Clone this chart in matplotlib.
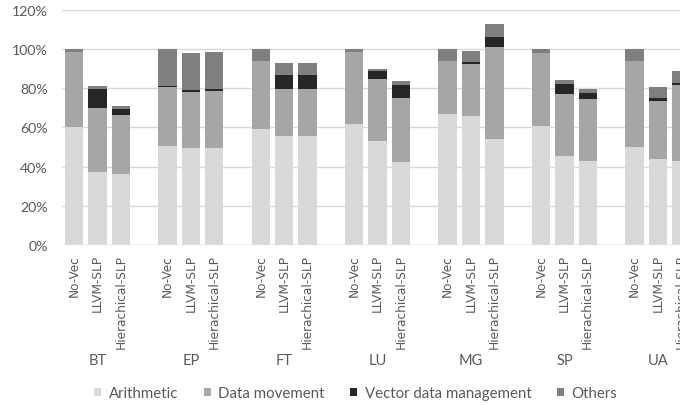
import numpy as np
import matplotlib.pyplot as plt

# ベンチマークと構成
groups = ["BT", "EP", "FT", "LU", "MG", "SP", "UA"]
configs = ["No-Vec", "LLVM-SLP", "Hierachical-SLP"]
series = ["Arithmetic", "Data movement", "Vector data management", "Others"]
colors = ["#d9d9d9", "#a6a6a6", "#262626", "#7f7f7f"]

# 各値は No-Vec=100% に対する割合 (%)
arithmetic = [60.4, 37.1, 36.1, 50.7, 49.3, 49.3, 59.4, 55.8, 55.8,
              61.7, 52.9, 42.5, 66.7, 65.8, 53.9, 60.7, 45.7, 42.9,
              50.2, 43.9, 42.9]
data_movement = [37.9, 33.1, 30.1, 30.1, 28.9, 29.3, 34.6, 24.1, 24.1,
                 36.6, 32.1, 32.8, 27.0, 26.4, 47.0, 37.1, 31.5, 31.9,
                 43.7, 29.7, 38.7]
vector_mgmt = [0.0, 9.4, 3.2, 0.5, 0.9, 0.8, 0.0, 6.8, 6.8,
               0.0, 3.9, 6.5, 0.0, 1.0, 5.4, 0.0, 4.9, 2.8,
               0.0, 1.3, 1.1]
others = [1.7, 1.5, 1.7, 18.7, 18.7, 18.9, 6.0, 6.0, 6.0,
          1.7, 0.9, 1.7, 6.3, 5.9, 6.5, 2.2, 2.4, 2.3,
          6.1, 5.9, 6.1]

yticks = [0, 20, 40, 60, 80, 100, 120]

# 3本ずつ並べ、グループ間に1本分の空き
n_cfg = len(configs)
x = np.array([g * (n_cfg + 1) + i for g in range(len(groups)) for i in range(n_cfg)])

fig = plt.figure(figsize=(6.8, 4.06), dpi=100)
# 右端のグループは図の外にはみ出す
ax = fig.add_axes([0.0918, 0.394, 0.927, 0.579])

bottom = np.zeros(len(x))
for name, vals, c in zip(series, [arithmetic, data_movement, vector_mgmt, others], colors):
    vals = np.array(vals) / 100
    ax.bar(x, vals, width=0.79, bottom=bottom, color=c, label=name, zorder=2)
    bottom += vals

ax.set_xlim(-0.5, x[-1] + 0.5)
ax.set_ylim(0, 1.2)
ax.set_yticks(np.array(yticks) / 100)
ax.set_yticklabels([f"{t}%" for t in yticks], family="Lato", fontsize=10.2, color="#595959")
ax.grid(axis="y", color="#d9d9d9", lw=1, zorder=0)
for s in ax.spines.values():
    s.set_visible(False)
ax.axhline(0, color="#d9d9d9", lw=1, zorder=1)
ax.tick_params(axis="y", length=0, pad=10.5)

ax.set_xticks(x)
ax.set_xticklabels(configs * len(groups), rotation=90, family="DejaVu Sans",
                   fontsize=8.7, color="#595959")
ax.tick_params(axis="x", length=0, pad=6.5)

# ベンチマーク名
for g, name in enumerate(groups):
    ax.annotate(name, xy=(x[g * n_cfg + 1], 0), xycoords=("data", "axes fraction"),
                xytext=(0, -83), textcoords="offset points", ha="center", va="center",
                family="Lato", fontsize=10.5, color="#595959")

leg = fig.legend(loc="center", bbox_to_anchor=(0.523, 0.029), ncol=4, frameon=False,
                 prop={"family": "Lato", "size": 10.8}, handlelength=0.47, handleheight=0.47,
                 handletextpad=0.5, columnspacing=1.7)
for t in leg.get_texts():
    t.set_color("#595959")

fig.savefig("out.png", dpi=100)
